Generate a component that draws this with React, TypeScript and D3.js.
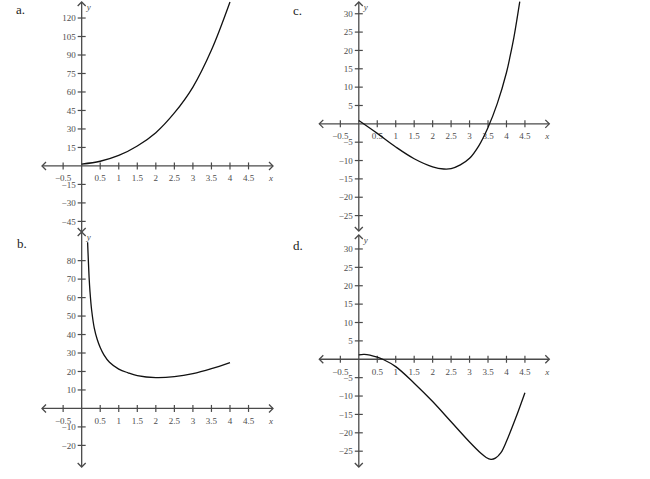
import React from "react";
import * as d3 from "d3";

const xTicks = [-0.5, 0.5, 1, 1.5, 2, 2.5, 3, 3.5, 4, 4.5];
const yTicksA = [-45, -30, -15, 15, 30, 45, 60, 75, 90, 105, 120];
const yTicksB = [-20, -10, 10, 20, 30, 40, 50, 60, 70, 80];
const yTicksC = [-25, -20, -15, -10, -5, 5, 10, 15, 20, 25, 30];
const yTicksD = [-25, -20, -15, -10, -5, 5, 10, 15, 20, 25, 30];

const curveAX = [0, 0.5, 1, 1.5, 2, 2.5, 3, 3.5, 4];
const curveAY = [1.5, 3.8, 8.5, 16.2, 27, 43, 64, 94, 133];

const curveBX = [0.16, 0.18, 0.2, 0.225, 0.27, 0.34, 0.42, 0.5, 0.6, 0.75, 1, 1.25, 1.5, 2, 2.5, 3, 3.5, 4];
const curveBY = [90, 80, 71, 63, 53, 43.5, 37.3, 33, 29, 25, 21.3, 19.3, 17.8, 16.7, 17.2, 18.8, 21.5, 24.8];

const curveCX = [0, 0.5, 1, 1.5, 2, 2.3, 2.5, 2.75, 3, 3.25, 3.5, 3.75, 4, 4.1, 4.2, 4.3, 4.36];
const curveCY = [0.9, -2.6, -6.3, -9.5, -11.7, -12.3, -12.2, -11.2, -9.4, -6, -1, 5.5, 14, 18.5, 23.5, 29.5, 33.3];

const curveDX = [0, 0.15, 0.5, 0.65, 1, 1.5, 2, 2.5, 3, 3.3, 3.45, 3.58, 3.7, 3.85, 4, 4.25, 4.5];
const curveDY = [1.2, 1.35, 0.6, 0, -2, -6.5, -11.5, -17, -22.5, -25.5, -26.7, -27.2, -26.9, -25.4, -22.3, -16, -9.1];

const FONT = "Liberation Serif";
const AXIS = "#4a4a4a";
const LABEL = "#4d4d4d";

type PanelProps = {
  label: string;
  labelX: number;
  labelY: number;
  left: number;
  right: number;
  top: number;
  bottom: number;
  yMin: number;
  yMax: number;
  yTicks: number[];
  xs: number[];
  ys: number[];
};

const fmt = (v: number) => (v < 0 ? "\u2212" + String(-v) : String(v));

function Panel(p: PanelProps) {
  const x = d3.scaleLinear().domain([-1.07, 5.16]).range([p.left, p.right]);
  const y = d3.scaleLinear().domain([p.yMin, p.yMax]).range([p.bottom, p.top]);
  const x0 = x(0);
  const y0 = y(0);
  const pts: [number, number][] = p.xs.map((v, i) => [v, p.ys[i]]);
  const line = d3
    .line<[number, number]>()
    .x((d) => x(d[0]))
    .y((d) => y(d[1]))
    .curve(d3.curveCatmullRom.alpha(0.5));
  const a = 4;
  return (
    <g>
      <text x={p.labelX} y={p.labelY} fontFamily={FONT} fontSize={13} fill="#222">
        {p.label}
      </text>
      <line x1={p.left} x2={p.right} y1={y0} y2={y0} stroke={AXIS} strokeWidth={1.3} />
      <path d={`M${p.left + a},${y0 - a}L${p.left},${y0}L${p.left + a},${y0 + a}`} fill="none" stroke={AXIS} strokeWidth={1.3} />
      <path d={`M${p.right - a},${y0 - a}L${p.right},${y0}L${p.right - a},${y0 + a}`} fill="none" stroke={AXIS} strokeWidth={1.3} />
      <line x1={x0} x2={x0} y1={p.top} y2={p.bottom} stroke={AXIS} strokeWidth={1.3} />
      <path d={`M${x0 - a},${p.top + a}L${x0},${p.top}L${x0 + a},${p.top + a}`} fill="none" stroke={AXIS} strokeWidth={1.3} />
      <path d={`M${x0 - a},${p.bottom - a}L${x0},${p.bottom}L${x0 + a},${p.bottom - a}`} fill="none" stroke={AXIS} strokeWidth={1.3} />
      {xTicks.map((t) => (
        <g key={"x" + t}>
          <line x1={x(t)} x2={x(t)} y1={y0 - 3.5} y2={y0 + 3.5} stroke={AXIS} strokeWidth={1.2} />
          <text x={x(t)} y={y0 + 15.5} textAnchor="middle" fontFamily={FONT} fontSize={9} fill={LABEL}>
            {fmt(t)}
          </text>
        </g>
      ))}
      {p.yTicks.map((t) => (
        <g key={"y" + t}>
          <line x1={x0 - 4} x2={x0 + 4} y1={y(t)} y2={y(t)} stroke={AXIS} strokeWidth={1.2} />
          <text x={x0 - 6} y={y(t) + 3.2} textAnchor="end" fontFamily={FONT} fontSize={9} fill={LABEL}>
            {fmt(t)}
          </text>
        </g>
      ))}
      <text x={p.right - 2} y={y0 + 15.5} textAnchor="middle" fontFamily={FONT} fontStyle="italic" fontSize={9} fill={LABEL}>
        x
      </text>
      <text x={x0 + 5} y={p.top + 8} fontFamily={FONT} fontStyle="italic" fontSize={9} fill={LABEL}>
        y
      </text>
      <path d={line(pts) || ""} fill="none" stroke="#111" strokeWidth={1.3} />
    </g>
  );
}

export default function App() {
  return (
    <svg
      width={650}
      height={479}
      style={{ position: "absolute", left: 0, top: 0, background: "#fff" }}
    >
      <rect width={650} height={479} fill="#fff" />
      <Panel label="a." labelX={16} labelY={14} left={42} right={273} top={2} bottom={232}
        yMin={-53.6} yMax={133} yTicks={yTicksA} xs={curveAX} ys={curveAY} />
      <Panel label="c." labelX={293} labelY={15} left={319.3} right={549.3} top={2} bottom={231}
        yMin={-29.2} yMax={33.2} yTicks={yTicksC} xs={curveCX} ys={curveCY} />
      <Panel label="b." labelX={17} labelY={248} left={42} right={273} top={232} bottom={467}
        yMin={-31.7} yMax={95.5} yTicks={yTicksB} xs={curveBX} ys={curveBY} />
      <Panel label="d." labelX={293} labelY={250} left={319.3} right={549.3} top={235} bottom={467}
        yMin={-29.3} yMax={33.8} yTicks={yTicksD} xs={curveDX} ys={curveDY} />
    </svg>
  );
}
